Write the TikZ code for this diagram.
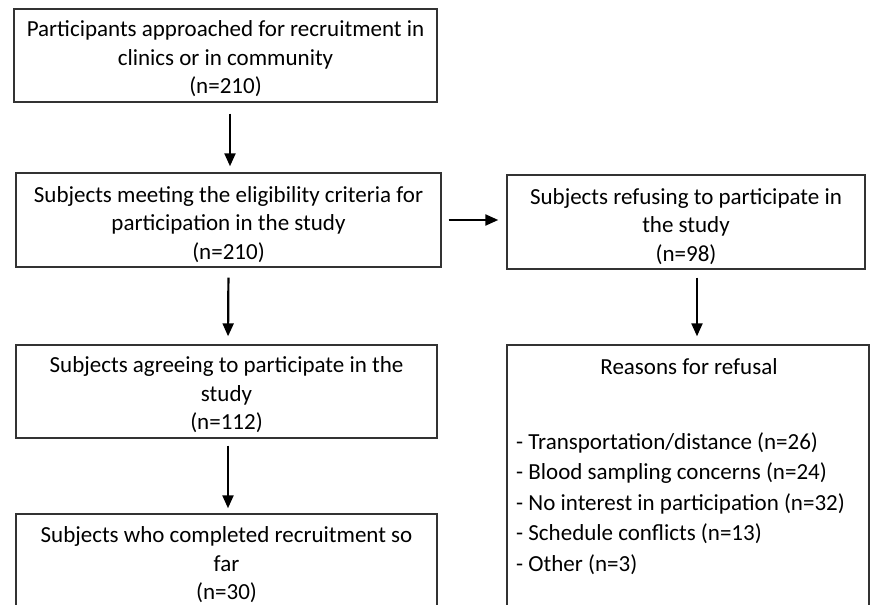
\documentclass[tikz,border=0pt]{standalone}
\usepackage{fontspec}
\setmainfont{Carlito}
\usetikzlibrary{arrows.meta,calc}
\newcommand{\lowtext}[2]{\raisebox{-#1}[\height][\depth]{\begin{tabular}{@{}c@{}}#2\end{tabular}}}
\begin{document}
\begin{tikzpicture}[x=1pt,y=-1pt,
  box/.style={draw=black!80,line width=1.4pt,rectangle,inner sep=0pt,align=center,
     font=\fontsize{23}{28.5}\selectfont},
  arr/.style={line width=2.2pt,-{Triangle[width=11pt,length=13pt]}},
  txt/.style={inner sep=0pt,font=\fontsize{23}{28.5}\selectfont}]
\useasboundingbox (0,0) rectangle (871,605);
\clip (0,0) rectangle (871,605);
\fill[white] (0,0) rectangle (871,605);
\node[box,minimum width=423pt,minimum height=93pt] (b1) at (225.5,55.5)
  {\lowtext{4pt}{Participants approached for recruitment in\\clinics or in community\\(n=210)}};
\node[box,minimum width=425pt,minimum height=94pt] (b2) at (228.5,220)
  {\lowtext{5pt}{Subjects meeting the eligibility criteria for\\participation in the study\\(n=210)}};
\node[box,minimum width=358pt,minimum height=94pt] (b3) at (686,222)
  {\lowtext{5pt}{Subjects refusing to participate in\\the study\\(n=98)}};
\node[box,minimum width=421pt,minimum height=93pt] (b4) at (226.5,391.5)
  {\lowtext{4pt}{Subjects agreeing to participate in the\\study\\(n=112)}};
\node[box,minimum width=421pt,minimum height=95pt] (b5) at (226.5,561.5)
  {\lowtext{4pt}{Subjects who completed recruitment so\\far\\(n=30)}};
\node[box,minimum width=362pt,minimum height=270pt] (b6) at (688,480) {};
\node[txt] (t6) at (689,367) {Reasons for refusal};
\node[txt,anchor=north west,align=left,font=\fontsize{23}{30.5}\selectfont] (l6) at (516,432)
  {- Transportation/distance (n=26)\\- Blood sampling concerns (n=24)\\- No interest in participation (n=32)\\- Schedule conflicts (n=13)\\- Other (n=3)};
\draw[arr,shorten <=11pt,shorten >=6pt] ([xshift=4.5pt]b1.south) -- ([xshift=1.5pt]b2.north);
\draw[arr,shorten <=7pt,shorten >=8pt] (b2.east) -- (b2.east -| b3.west);
\draw[arr,shorten <=10pt,shorten >=8pt] (b2.south) -- ([xshift=1.5pt]b4.north);
\draw[arr,shorten <=7pt,shorten >=5pt] ([xshift=1.5pt]b4.south) -- ([xshift=1.5pt]b5.north);
\draw[arr,shorten <=8pt,shorten >=8pt] ([xshift=11pt]b3.south) -- ([xshift=9pt]b6.north);
\end{tikzpicture}
\end{document}
